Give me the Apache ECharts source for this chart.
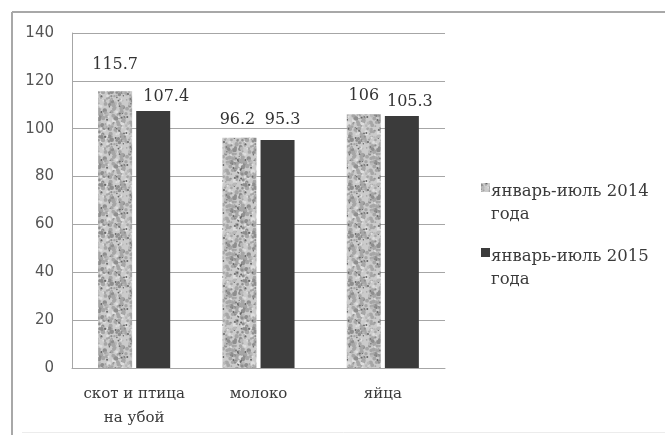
<!DOCTYPE html>
<html>
<head>
<meta charset="utf-8">
<script src="https://cdn.jsdelivr.net/npm/echarts@6/dist/echarts.min.js"></script>
<style>
  html, body { margin: 0; padding: 0; background: #fff; }
  #chart { width: 665px; height: 435px; }
</style>
</head>
<body>
<div id="chart"></div>
<script>
// Production index, % of the corresponding period of the previous year
const categories = ['скот и птица\nна убой', 'молоко', 'яйца'];
const seriesNames = ['январь-июль 2014\nгода', 'январь-июль 2015\nгода'];
const values2014 = [115.7, 96.2, 106];
const values2015 = [107.4, 95.3, 105.3];
const yTicks = [0, 20, 40, 60, 80, 100, 120, 140];

// Hand-placed nudges for the value labels, [dx, dy] in pixels
const labelNudge2014 = [[0, -18], [-2, -10], [0, -11]];
const labelNudge2015 = [[13, -6], [5, -12], [8, -6]];

// Fine mottled grey "granite" fill, built from a fixed hash so it is the same every time
function makeGranite() {
  const size = 48;
  const c = document.createElement('canvas');
  c.width = size; c.height = size;
  const g = c.getContext('2d');
  g.fillStyle = '#cbcbcb';
  g.fillRect(0, 0, size, size);
  function h(i) {
    let x = Math.sin(i * 127.1 + 311.7) * 43758.5453;
    return x - Math.floor(x);
  }
  function blob(x, y, r, col) {
    g.fillStyle = col;
    g.beginPath();
    for (const dx of [-size, 0, size]) {
      for (const dy of [-size, 0, size]) {
        g.moveTo(x + dx + r, y + dy);
        g.arc(x + dx, y + dy, r, 0, Math.PI * 2);
      }
    }
    g.fill();
  }
  for (let i = 0; i < 260; i++) {
    const t = h(i + 3000);
    const col = t < 0.5 ? '#a6a6a6' : (t < 0.72 ? '#8e8e8e' : (t < 0.88 ? '#dedede' : '#b8b8b8'));
    blob(h(i) * size, h(i + 1000) * size, 0.8 + h(i + 2000) * 1.5, col);
  }
  for (let i = 0; i < 45; i++) {
    blob(h(i + 5000) * size, h(i + 6000) * size, 0.5 + h(i + 7000) * 0.6, '#676767');
  }
  return c;
}

const granite = { image: makeGranite(), repeat: 'repeat' };

function withLabels(vals, nudges) {
  return vals.map((v, i) => ({ value: v, label: { offset: nudges[i] } }));
}

const serif = '"DejaVu Serif", "Liberation Serif", serif';
const sans = '"DejaVu Sans", "Liberation Sans", sans-serif';
// legend marker sitting on the first text line
const legendIcon = 'path://M0,0H9V9H0Z M0,40L0.001,40';

const chart = echarts.init(document.getElementById('chart'), null, { renderer: 'canvas' });
chart.setOption({
  backgroundColor: '#ffffff',
  animation: false,
  graphic: [
    { type: 'line', shape: { x1: 12, y1: 12, x2: 665, y2: 12 }, style: { stroke: '#a8a8a8', lineWidth: 2 } },
    { type: 'line', shape: { x1: 12, y1: 12, x2: 12, y2: 435 }, style: { stroke: '#a8a8a8', lineWidth: 2 } },
    { type: 'line', shape: { x1: 22, y1: 432.5, x2: 665, y2: 432.5 }, style: { stroke: '#ececec', lineWidth: 1 } }
  ],
  grid: { left: 72, right: 220, top: 33, bottom: 67, containLabel: false },
  legend: {
    orient: 'vertical',
    left: 476,
    top: 175,
    itemWidth: 9,
    itemHeight: 40,
    itemGap: 19,
    data: [
      { name: seriesNames[0], icon: legendIcon },
      { name: seriesNames[1], icon: legendIcon }
    ],
    textStyle: { fontFamily: serif, fontSize: 16.5, color: '#3a3a3a', lineHeight: 23, padding: [0, 0, 0, -4] }
  },
  xAxis: {
    type: 'category',
    data: categories,
    axisLine: { show: true, lineStyle: { color: '#a6a6a6', width: 1 } },
    axisTick: { show: false },
    axisLabel: { interval: 0, fontFamily: serif, fontSize: 15, color: '#3a3a3a', lineHeight: 24, margin: 14 }
  },
  yAxis: {
    type: 'value',
    min: 0,
    max: 140,
    interval: 20,
    axisLine: { show: true, lineStyle: { color: '#a6a6a6', width: 1 } },
    axisTick: { show: false },
    splitLine: { lineStyle: { color: '#a6a6a6', width: 1 } },
    axisLabel: {
      fontFamily: sans, fontSize: 15, color: '#555', margin: 18,
      formatter: v => (yTicks.includes(v) ? String(v) : '')
    }
  },
  series: [
    {
      name: seriesNames[0],
      type: 'bar',
      barWidth: 34,
      barGap: '12%',
      itemStyle: { color: granite },
      label: { show: true, position: 'top', distance: 0, fontFamily: serif, fontSize: 16, color: '#333' },
      data: withLabels(values2014, labelNudge2014)
    },
    {
      name: seriesNames[1],
      type: 'bar',
      barWidth: 34,
      itemStyle: { color: '#3b3b3b' },
      label: { show: true, position: 'top', distance: 0, fontFamily: serif, fontSize: 16, color: '#333' },
      data: withLabels(values2015, labelNudge2015)
    }
  ]
});
</script>
</body>
</html>
